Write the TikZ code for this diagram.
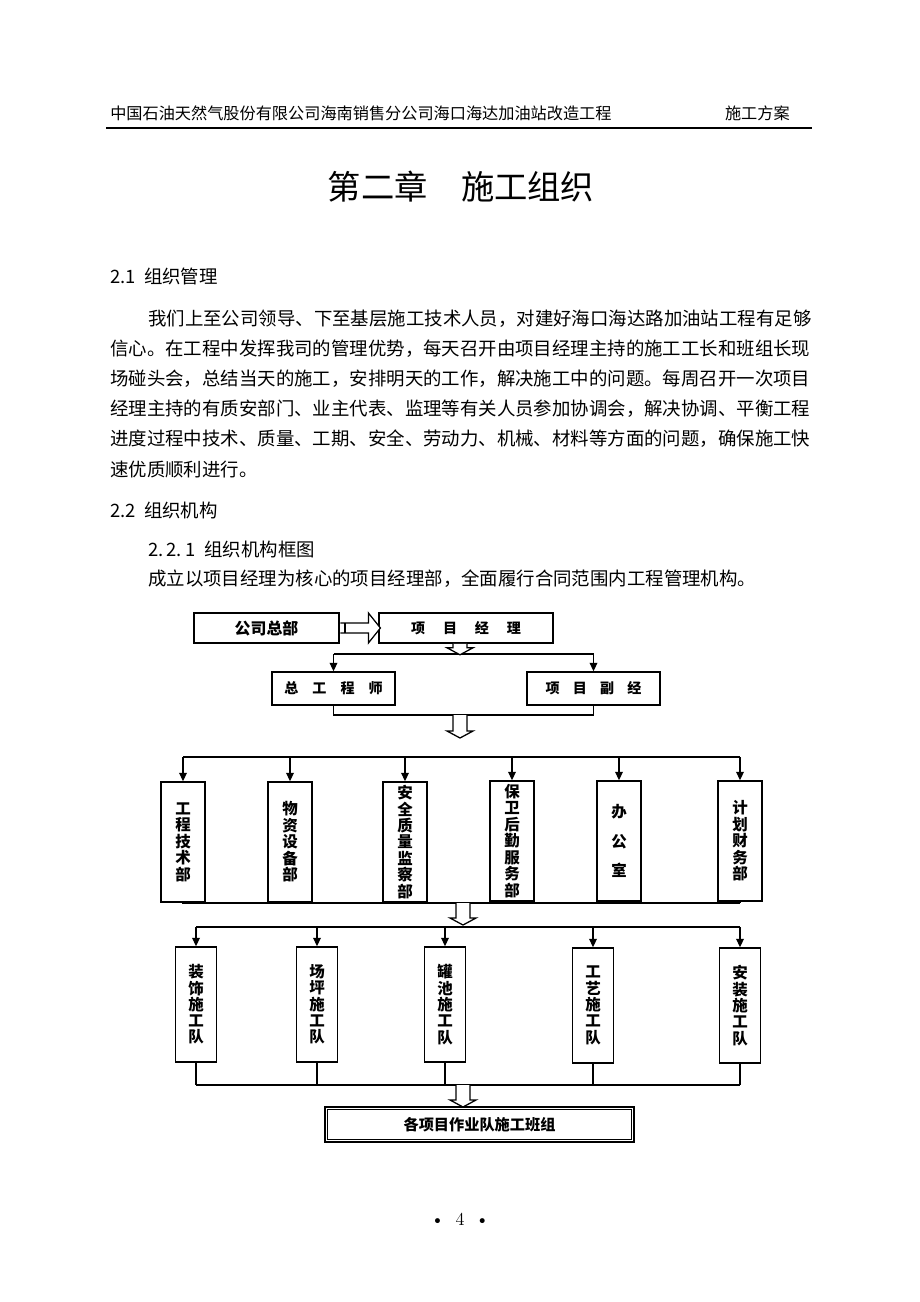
\documentclass[tikz,border=0pt]{standalone}
\usepackage{fontspec}
\newfontfamily\cjk{Noto Sans CJK SC}
\usetikzlibrary{arrows.meta,calc,positioning}

% hollow block arrows of the chart
\newcommand{\hollowdown}[2]{%
  \draw[hollow] (#1) ++(-7,0) -- ++(0,#2) -- ++(-6,0) -- ++(13,7) -- ++(13,-7) -- ++(-6,0) -- ++(0,-#2);}
\newcommand{\hollowright}[2]{%
  \draw[hollow] (#1) ++(0,-5) -- ++(#2,0) -- ++(0,-10) -- ++(12,15) -- ++(-12,15) -- ++(0,-10) -- ++(-#2,0);}

\begin{document}
\begin{tikzpicture}[x=0.025cm, y=-0.025cm,
  txt/.style={inner sep=0pt, font=\cjk\fontsize{13.1}{15}\selectfont},
  hdr/.style={inner sep=0pt, font=\cjk\fontsize{11.5}{13}\selectfont},
  box/.style={draw, line width=1.1pt, inner sep=0pt, font=\cjk\bfseries\fontsize{10}{12}\selectfont},
  dept/.style={box, minimum width=1.1cm, minimum height=3cm, align=center, font=\cjk\bfseries\fontsize{11}{11.7}\selectfont},
  team/.style={dept, minimum width=1.03cm, minimum height=2.875cm, font=\cjk\bfseries\fontsize{11}{11.6}\selectfont},
  conn/.style={line width=0.9pt},
  arr/.style={conn, -{Triangle[length=6pt,width=5.5pt]}},
  hollow/.style={line width=0.9pt, fill=white, line join=miter},
]
\useasboundingbox (0,0) rectangle (920,1302);

% page head
\node[hdr, anchor=west] (hleft) at (110,113) {中国石油天然气股份有限公司海南销售分公司海口海达加油站改造工程};
\node[hdr, anchor=east] (hright) at (790,113) {施工方案};
\draw[line width=1pt] (106,128) -- (812,128);

\node[inner sep=0pt, font=\cjk\fontsize{23.7}{28}\selectfont] (title) at (461,187) {第二章　施工组织};

% text
\node[txt, anchor=west] (s21) at (110,276) {2.1\hspace{0.45em}组织管理};
\node[txt, anchor=west] (p1) at (148,319) {我们上至公司领导、下至基层施工技术人员，对建好海口海达路加油站工程有足够};
\node[txt, anchor=west] (p2) at (110,349) {信心。在工程中发挥我司的管理优势，每天召开由项目经理主持的施工工长和班组长现};
\node[txt, anchor=west] (p3) at (110,379) {场碰头会，总结当天的施工，安排明天的工作，解决施工中的问题。每周召开一次项目};
\node[txt, anchor=west] (p4) at (110,409) {经理主持的有质安部门、业主代表、监理等有关人员参加协调会，解决协调、平衡工程};
\node[txt, anchor=west] (p5) at (110,439) {进度过程中技术、质量、工期、安全、劳动力、机械、材料等方面的问题，确保施工快};
\node[txt, anchor=west] (p6) at (110,470) {速优质顺利进行。};
\node[txt, anchor=west] (s22) at (110,511) {2.2\hspace{0.45em}组织机构};
\node[txt, anchor=west] (s221) at (148,549) {2.\,2.\,1\hspace{0.5em}组织机构框图};
\node[txt, anchor=west] (intro) at (148,579) {成立以项目经理为核心的项目经理部，全面履行合同范围内工程管理机构。};

% chart
\node[box, line width=2pt, minimum width=3.625cm, minimum height=0.75cm, font=\cjk\bfseries\fontsize{11.3}{13}\selectfont] (hq) at (266.5,628) {公司总部};
\node[box, minimum width=4.35cm, minimum height=0.75cm] (pm) at (466,628) {项\hspace{1.27em}目\hspace{1.27em}经\hspace{1.27em}理};
\hollowright{hq.east}{28}
\draw[line width=1.5pt] (hq.east) ++(5,-5) -- ++(0,10);

\node[box, minimum width=3.075cm, minimum height=0.825cm] (ce) at (333.5,688.5) {总\hspace{1em}工\hspace{1em}程\hspace{1em}师};
\node[box, minimum width=3.325cm, minimum height=0.825cm] (vp) at (593.5,688.5) {项\hspace{0.94em}目\hspace{0.94em}副\hspace{0.94em}经};

\coordinate (b1) at (460,654);
\draw[conn] (b1 -| ce) -- (b1 -| vp);
\draw[arr] (b1 -| ce) -- (ce);
\draw[arr] (b1 -| vp) -- (vp);
\hollowdown{pm.south -| b1}{4}

\coordinate (b2) at (460,715);
\draw[conn] (ce.south) -- (ce.south |- b2) -- (vp.south |- b2) -- (vp.south);
\hollowdown{b2}{16}

% departments
\node[dept] (d1) at (183,842) {工\\程\\技\\术\\部};
\node[dept] (d2) at (290,842) {物\\资\\设\\备\\部};
\node[dept] (d3) at (405,842) {安\\全\\质\\量\\监\\察\\部};
\node[dept] (d4) at (512,841) {保\\卫\\后\\勤\\服\\务\\部};
\node[dept] (d5) at (619,841) {办\\[9.3pt]公\\[9.3pt]室};
\node[dept] (d6) at (740,841) {计\\划\\财\\务\\部};

\coordinate (b3) at (460,757);
\draw[conn] (b3 -| d1) -- (b3 -| d6);
\foreach \n in {1,...,6}
  \draw[arr] (b3 -| d\n) -- (d\n);

\coordinate (b4) at (463,903);
\draw[conn] (b4 -| d1) -- (b4 -| d6);
\foreach \n in {1,...,6}
  \draw[conn] (d\n.south) -- (d\n.south |- b4);
\hollowdown{b4}{15}

% work teams
\node[team] (t1) at (196,1004.5) {装\\饰\\施\\工\\队};
\node[team] (t2) at (317,1004.5) {场\\坪\\施\\工\\队};
\node[team] (t3) at (445,1004.5) {罐\\池\\施\\工\\队};
\node[team] (t4) at (593,1005.5) {工\\艺\\施\\工\\队};
\node[team] (t5) at (740,1005.5) {安\\装\\施\\工\\队};

\coordinate (b5) at (463,927);
\draw[conn] (b5 -| t1) -- (b5 -| t5);
\foreach \n in {1,...,5}
  \draw[arr] (b5 -| t\n) -- (t\n);

\coordinate (b6) at (463,1085);
\draw[conn] (b6 -| t1) -- (b6 -| t5);
\foreach \n in {1,...,5}
  \draw[conn] (t\n.south) -- (t\n.south |- b6);
\hollowdown{b6}{15}

\node[box, line width=2pt, minimum width=7.725cm, minimum height=0.875cm, font=\cjk\bfseries\fontsize{10.8}{13}\selectfont] (crew) at (479.5,1124.5) {各项目作业队施工班组};
\draw[line width=0.6pt] ([shift={(4,4)}]crew.north west) rectangle ([shift={(-4,-4)}]crew.south east);

% page number
\node[inner sep=0pt, font=\fontsize{13}{15}\selectfont] (pageno) at (460,1219) {\textbullet\hspace{0.6em}4\hspace{0.6em}\textbullet};
\end{tikzpicture}
\end{document}
